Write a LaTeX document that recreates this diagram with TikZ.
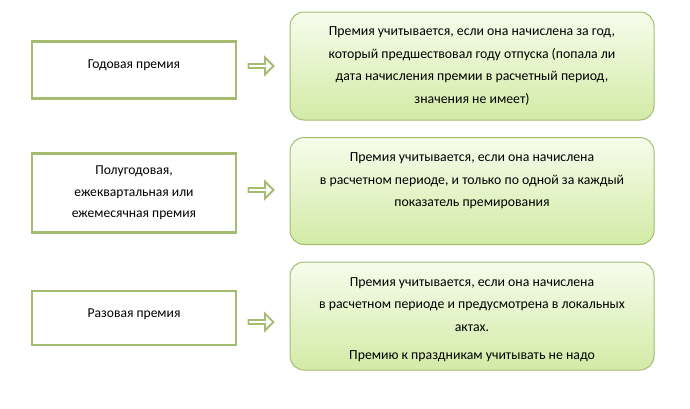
\documentclass[tikz,border=0pt]{standalone}
\usepackage{fontspec}
\setmainfont{Carlito}
\usetikzlibrary{shapes.arrows}
\definecolor{bord}{HTML}{A3BC70}
\definecolor{gtop}{HTML}{F7FCEC}
\definecolor{gbot}{HTML}{D2EBA6}
\tikzset{
 lbox/.style={draw=bord,line width=2.4pt,minimum width=204pt,align=center,font=\fontsize{13.6}{21.5}\selectfont},
 rbox/.style={draw=bord,line width=1pt,rounded corners=14pt,minimum width=364pt,top color=gtop,bottom color=gbot,align=center,font=\fontsize{13.8}{22.5}\selectfont},
 barrow/.style={single arrow,draw=bord,line width=1.8pt,fill=white,minimum width=17pt,single arrow head extend=3pt,minimum height=25pt,inner sep=0pt}
}
\begin{document}
\begin{tikzpicture}[x=1pt,y=-1pt]
\useasboundingbox (0,0) rectangle (690,408);
\node[lbox,minimum height=57pt] (l1) at (134,70) {Годовая премия\\[-10pt]};
\node[lbox,minimum height=79pt] (l2) at (134,193) {Полугодовая,\\ежеквартальная или\\ежемесячная премия};
\node[lbox,minimum height=54pt] (l3) at (134,318) {Разовая премия\\[-12pt]};
\node[rbox,minimum height=108pt] (r1) at (472,66) {Премия учитывается, если она начислена за год,\\который предшествовал году отпуска (попала ли\\дата начисления премии в расчетный период,\\значения не имеет)};
\node[rbox,minimum height=107pt] (r2) at (472,191) {Премия учитывается, если она начислена\\в расчетном периоде, и только по одной за каждый\\показатель премирования\\[0pt]};
\node[rbox,minimum height=108pt] (r3) at (472,316) {Премия учитывается, если она начислена\\в расчетном периоде и предусмотрена в локальных\\актах.\\[6pt]Премию к праздникам учитывать не надо\\[-28pt]};
\node[barrow] (a1) at (260,66) {};
\node[barrow] (a2) at (260,190) {};
\node[barrow] (a3) at (260,322) {};
\end{tikzpicture}
\end{document}
